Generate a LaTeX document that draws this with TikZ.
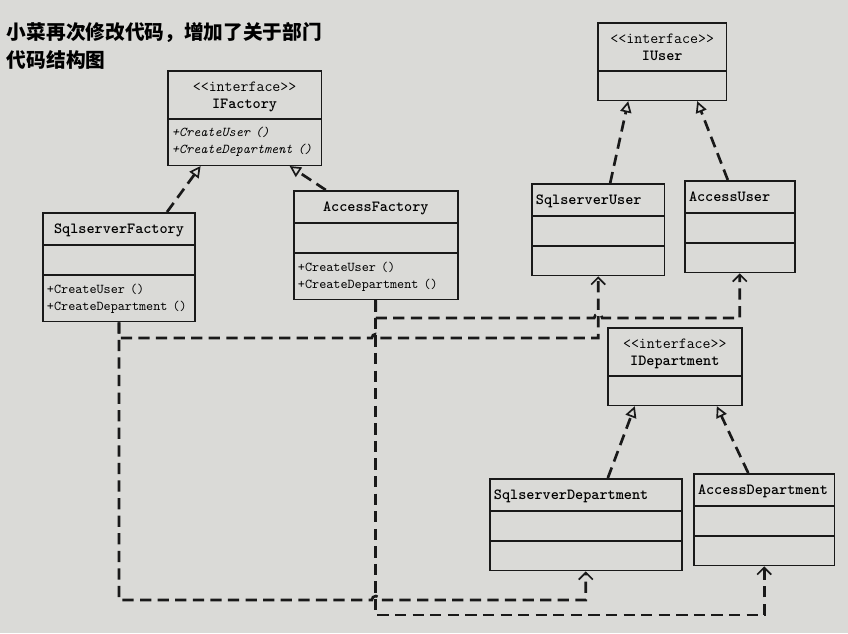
\documentclass[tikz,border=0pt]{standalone}
\usepackage{fontspec}
\newfontfamily\cjk{Noto Sans CJK SC}
\usetikzlibrary{shapes.multipart,arrows.meta,calc}

\definecolor{paper}{RGB}{218,218,215}
\definecolor{ink}{RGB}{25,25,25}

\newcommand{\namerow}{\rule[-7.5pt]{0pt}{22pt}}
\newcommand{\leftname}[1]{\namerow\textbf{#1}\hfill\null}
\newcommand{\blankrow}{\rule{0pt}{20pt}}
\newcommand{\meths}[1]{\fontsize{9.6}{12}\selectfont\rule[-13.5pt]{0pt}{32pt}%
    \begin{tabular}{@{}l@{}}#1\end{tabular}\hfill\null}
\newcommand{\stereo}{\rule{0pt}{14pt}<<interface>>}

\tikzset{
    cls/.style={draw=ink, line width=1.1pt, rectangle split, rectangle split parts=#1,
        anchor=north west, inner xsep=3pt, inner ysep=0pt, align=center,
        font=\ttfamily\fontsize{11}{12}\selectfont},
    real/.style={draw=ink, line width=1.9pt, dash pattern=on 8pt off 4.5pt,
        -{Triangle[open,length=8pt,width=8pt,line width=1.2pt]}},
    dep/.style={draw=ink, line width=1.9pt, dash pattern=on 8pt off 4.5pt,
        -{Straight Barb[length=5pt,width=10pt,line width=1.2pt]}},
}

\begin{document}
\begin{tikzpicture}[x=0.025cm, y=-0.025cm]
    \fill[paper] (0,0) rectangle (848,633);

    \node[anchor=west, font=\cjk\bfseries\fontsize{14}{16}\selectfont] (title) at (2,33) {小菜再次修改代码，增加了关于部门};
    \node[anchor=west, font=\cjk\bfseries\fontsize{14}{16}\selectfont] (sub) at (2,60) {代码结构图};

    % factories
    \node[cls=2, text width=3.63cm] (ifac) at (167,70)
        {\stereo\\\textbf{IFactory}\rule[-7pt]{0pt}{7pt}
         \nodepart{second}\itshape\meths{+CreateUser ()\\+CreateDepartment ()}};
    \node[cls=3, text width=3.6cm] (sqlf) at (42,212)
        {\namerow\textbf{SqlserverFactory}
         \nodepart{second}\blankrow
         \nodepart{third}\meths{+CreateUser ()\\+CreateDepartment ()}};
    \node[cls=3, text width=3.89cm] (accf) at (293,190)
        {\namerow\textbf{AccessFactory}
         \nodepart{second}\blankrow
         \nodepart{third}\meths{+CreateUser ()\\+CreateDepartment ()}};

    % users
    \node[cls=2, text width=3.01cm] (iuser) at (597,22)
        {\stereo\\\textbf{IUser}\rule[-7pt]{0pt}{7pt}
         \nodepart{second}\blankrow};
    \node[cls=3, text width=3.11cm] (sqlu) at (531,183)
        {\leftname{SqlserverUser}\nodepart{second}\blankrow\nodepart{third}\blankrow};
    \node[cls=3, text width=2.54cm] (accu) at (684,180)
        {\leftname{AccessUser}\nodepart{second}\blankrow\nodepart{third}\blankrow};

    % departments
    \node[cls=2, text width=3.14cm] (idep) at (607,327)
        {\stereo\\\textbf{IDepartment}\rule[-7pt]{0pt}{7pt}
         \nodepart{second}\blankrow};
    \node[cls=3, text width=4.59cm] (sqld) at (489,478)
        {\leftname{SqlserverDepartment}\nodepart{second}\blankrow\nodepart{third}\blankrow};
    \node[cls=3, text width=3.31cm] (accd) at (693,473)
        {\leftname{AccessDepartment}\nodepart{second}\blankrow\nodepart{third}\blankrow};

    % realizations
    \foreach \c/\p/\a/\b in {sqlf/ifac/48/-44, accf/ifac/-50/45, sqlu/iuser/12/-34,
                             accu/iuser/-12/35, sqld/idep/22/-40, accd/idep/-16/42}
        \draw[real] ($(\c.north)+(\a,0)$) -- ($(\p.south)+(\b,0)$);

    % dependencies, rows of the dashed lines
    \coordinate (rowA) at (0,318);
    \coordinate (rowB) at (0,338);
    \coordinate (rowC) at (0,600);
    \coordinate (rowD) at (0,615);

    \draw[dep] (sqlf.south) -- (sqlf.south |- rowB) -- ($(accf.south |- rowB)+(-4,0)$)
        arc[start angle=180, end angle=0, radius=0.1cm] -- (sqlu.south |- rowB) -- (sqlu.south);
    \draw[dep] (sqlf.south) -- (sqlf.south |- rowC) -- ($(accf.south |- rowC)+(-4,0)$)
        arc[start angle=180, end angle=0, radius=0.1cm] -- (sqld.south |- rowC) -- (sqld.south);
    \draw[dep] (accf.south) -- (accf.south |- rowA) -- ($(sqlu.south |- rowA)+(-4,0)$)
        arc[start angle=180, end angle=0, radius=0.1cm] -- (accu.south |- rowA) -- (accu.south);
    \draw[dep] (accf.south) -- (accf.south |- rowD) -- (accd.south |- rowD) -- (accd.south);
\end{tikzpicture}
\end{document}
